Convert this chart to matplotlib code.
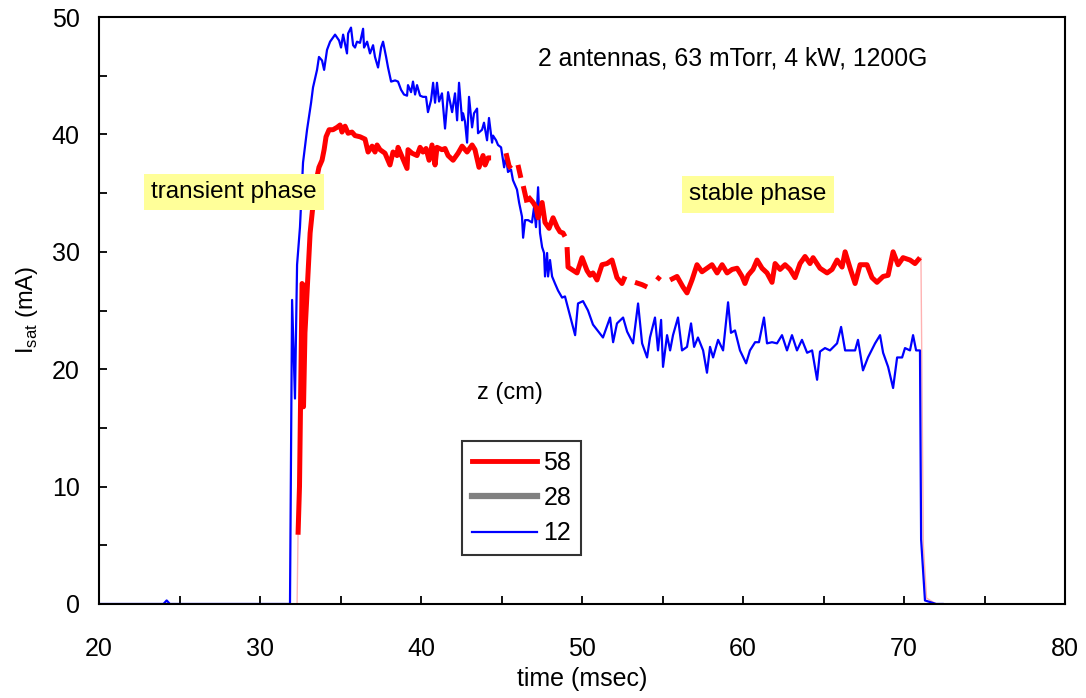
import numpy as np
import matplotlib
matplotlib.use('Agg')
import matplotlib.pyplot as plt
from matplotlib.lines import Line2D

plt.rcParams['font.family'] = ['Liberation Sans', 'DejaVu Sans']
plt.rcParams['mathtext.fontset'] = 'custom'
plt.rcParams['mathtext.rm'] = 'Liberation Sans'

nan = np.nan

# z = 12 cm probe (blue)
t_12 = [20.0, 24.0, 24.2, 24.4, 31.86, 31.99, 32.17, 32.30, 32.48, 32.67, 32.92, 33.17,
        33.29, 33.54, 33.66, 33.85, 33.98, 34.16, 34.35, 34.66, 34.91, 35.03, 35.16, 35.40,
        35.47, 35.65, 35.78, 35.90, 36.02, 36.21, 36.40, 36.46, 36.65, 36.83, 37.02, 37.14,
        37.33, 37.52, 37.64, 37.83, 37.95, 38.14, 38.39, 38.57, 38.76, 38.94, 39.13, 39.19,
        39.38, 39.50, 39.63, 39.75, 39.94, 40.12, 40.31, 40.43, 40.62, 40.75, 40.87, 40.99,
        41.12, 41.30, 41.49, 41.68, 41.93, 42.11, 42.24, 42.36, 42.55, 42.61, 42.73, 42.86,
        42.98, 43.17, 43.29, 43.48, 43.54, 43.79, 43.91, 44.10, 44.22, 44.41, 44.47, 44.66,
        44.78, 44.97, 45.09, 45.16, 45.28, 45.40, 45.59, 45.71, 45.96, 46.09, 46.27, 46.34,
        46.46, 46.65, 46.89, 47.02, 47.14, 47.20, 47.27, 47.39, 47.52, 47.64, 47.70, 47.83,
        47.89, 48.01, 48.14, 48.32, 48.51, 48.76, 48.94, 49.57, 49.75, 50.06, 50.37, 50.68,
        51.30, 51.74, 51.93, 52.17, 52.55, 52.80, 53.17, 53.48, 53.73, 54.04, 54.22, 54.53,
        54.72, 54.91, 55.03, 55.28, 55.47, 55.65, 55.96, 56.21, 56.52, 56.77, 56.96, 57.20,
        57.52, 57.76, 57.95, 58.14, 58.45, 58.76, 59.07, 59.25, 59.50, 59.81, 60.19, 60.43,
        60.75, 60.99, 61.30, 61.49, 61.80, 62.11, 62.42, 62.73, 63.04, 63.35, 63.66, 63.98,
        64.29, 64.60, 64.78, 65.09, 65.40, 65.84, 66.09, 66.34, 66.65, 66.96, 67.14, 67.45,
        67.76, 68.20, 68.51, 68.70, 69.01, 69.32, 69.57, 69.88, 70.06, 70.37, 70.56, 70.75,
        70.87, 70.99, 71.06, 71.30, 71.99, 72.4]
I_12 = [0.0, 0.0, 0.3, 0.0, 0.0, 25.9, 17.5, 28.9, 32.1, 37.6, 40.4, 42.7,
        44.0, 45.5, 46.6, 46.3, 45.5, 47.2, 47.9, 48.5, 48.0, 47.4, 48.5, 46.9,
        48.6, 49.1, 47.6, 47.4, 47.9, 47.8, 49.0, 47.4, 47.9, 46.9, 47.6, 46.6,
        45.7, 47.4, 47.9, 46.6, 45.7, 44.5, 44.6, 44.5, 43.8, 43.4, 43.3, 44.2,
        43.6, 44.5, 43.4, 44.2, 43.3, 43.2, 43.2, 41.9, 42.9, 44.4, 42.7, 44.4,
        42.8, 43.5, 40.5, 43.6, 41.9, 43.5, 41.2, 44.4, 41.2, 41.8, 41.1, 39.3,
        43.2, 40.6, 41.8, 42.2, 40.1, 40.4, 41.0, 39.5, 41.4, 39.3, 39.9, 39.5,
        39.1, 38.9, 37.8, 37.2, 38.1, 36.8, 37.0, 36.1, 35.3, 34.2, 33.0, 31.2,
        32.7, 32.7, 32.5, 33.8, 32.1, 33.6, 35.5, 31.6, 30.4, 29.9, 27.9, 29.9,
        27.9, 29.3, 27.9, 27.3, 26.7, 26.1, 26.2, 22.9, 25.6, 25.8, 25.0, 23.8,
        22.7, 24.4, 22.3, 23.9, 24.4, 23.2, 22.2, 25.6, 22.2, 21.0, 22.7, 24.4,
        21.6, 24.2, 20.2, 22.9, 21.6, 22.9, 24.4, 21.6, 21.9, 23.9, 21.9, 22.7,
        21.6, 19.7, 21.9, 21.0, 22.5, 21.6, 25.7, 23.1, 23.3, 21.6, 20.5, 21.6,
        22.3, 22.3, 24.4, 22.2, 22.3, 22.2, 22.9, 21.6, 22.9, 21.6, 22.5, 21.4,
        21.6, 19.1, 21.5, 21.8, 21.6, 22.2, 23.6, 21.6, 21.6, 21.6, 22.5, 19.9,
        21.0, 22.2, 22.9, 21.4, 20.2, 18.4, 21.0, 21.0, 21.8, 21.6, 22.9, 21.6,
        21.6, 21.6, 5.5, 0.3, 0.0, 0.0]

# z = 58 cm probe (red), gaps where the trace breaks up
t_58 = [32.36, 32.45, 32.61, 32.67, 32.70, 32.79, 33.11, 33.29, 33.54, 33.66, 33.85, 33.98,
        34.10, 34.29, 34.53, 34.78, 34.97, 35.09, 35.28, 35.47, 35.71, 35.90, 36.21, 36.52,
        36.71, 36.96, 37.14, 37.27, 37.45, 37.76, 38.07, 38.26, 38.51, 38.57, 38.82, 39.13,
        39.19, 39.44, 39.75, 39.94, 40.12, 40.31, 40.50, 40.68, 40.87, 40.99, 41.30, 41.49,
        41.68, 41.99, 42.30, 42.55, 42.86, 43.17, 43.35, 43.60, 43.85, 43.98, 44.16, 44.35,
        44.5, 45.28, 45.47, 45.59, 45.8, 46.02, 46.20, 46.28, 46.35, 46.58, 46.62, 46.65,
        46.96, 47.14, 47.27, 47.52, 47.70, 47.95, 48.20, 48.45, 48.63, 48.82, 48.94, 49.0,
        49.07, 49.13, 49.69, 50.00, 50.31, 50.50, 50.68, 50.93, 51.24, 51.55, 51.86, 52.17,
        52.48, 52.67, 52.9, 53.29, 53.73, 54.04, 54.3, 54.66, 54.84, 55.1, 55.47, 55.90,
        56.27, 56.52, 56.83, 57.14, 57.45, 57.76, 58.07, 58.39, 58.70, 59.01, 59.32, 59.63,
        59.94, 60.12, 60.31, 60.62, 60.87, 61.18, 61.49, 61.80, 61.99, 62.30, 62.61, 62.92,
        63.23, 63.54, 63.85, 64.16, 64.35, 64.78, 65.22, 65.53, 65.84, 66.15, 66.34, 66.65,
        66.96, 67.27, 67.70, 68.01, 68.32, 68.70, 69.01, 69.32, 69.63, 69.94, 70.37, 70.68,
        70.99]
I_58 = [5.9, 10.0, 27.3, 27.2, 16.8, 23.1, 31.6, 34.0, 36.4, 37.2, 37.8, 38.7,
        39.8, 40.4, 40.4, 40.6, 40.8, 40.2, 40.7, 40.1, 40.2, 39.9, 39.8, 39.6,
        38.5, 39.0, 38.5, 39.1, 38.7, 38.4, 37.4, 38.5, 38.2, 38.9, 38.1, 37.1,
        38.7, 38.4, 38.2, 38.9, 38.5, 38.8, 37.8, 39.1, 37.4, 38.9, 38.7, 38.8,
        38.2, 37.8, 38.4, 39.0, 38.5, 39.1, 38.7, 37.2, 38.2, 37.4, 38.0, 38.0,
        nan, 38.4, 37.3, 37.1, nan, 37.4, 36.3, nan, 35.6, 34.2, nan, 34.7,
        34.2, 33.8, 32.9, 34.2, 32.5, 32.0, 32.9, 32.1, 31.7, 31.6, 31.3, nan,
        30.4, 28.7, 28.2, 29.5, 28.4, 28.0, 28.2, 27.6, 28.9, 29.0, 29.3, 27.8,
        27.3, 27.9, nan, 27.4, 27.2, 27.0, nan, 27.6, 27.9, nan, 27.6, 27.9,
        27.0, 26.5, 27.6, 28.9, 28.3, 28.6, 28.9, 28.2, 28.9, 28.2, 28.5, 28.6,
        27.9, 27.3, 28.0, 28.5, 29.3, 28.6, 28.2, 27.4, 29.0, 28.5, 28.9, 28.5,
        27.8, 29.0, 29.6, 29.0, 29.5, 28.6, 28.2, 28.5, 29.3, 28.7, 30.0, 28.6,
        27.3, 28.9, 28.9, 27.8, 27.4, 27.9, 28.0, 30.0, 28.9, 29.5, 29.3, 29.0,
        29.5]

# faint edges of the red trace (switch-on / switch-off)
t_58_edge = [32.30, 32.36, nan, 71.05, 71.20, 71.40, 72.0]
I_58_edge = [0.0, 5.9, nan, 29.5, 5.0, 0.5, 0.0]

# z = 28 cm probe (gray) is hidden under the other traces
t_28 = []
I_28 = []

fig, ax = plt.subplots(figsize=(10.86, 6.98), dpi=100)
fig.subplots_adjust(left=0.0912, right=0.9807, bottom=0.1347, top=0.9756)

ax.plot(t_58_edge, I_58_edge, color='#ff8080', lw=1.0, alpha=0.6)
ax.plot(t_28, I_28, color='#808080', lw=4)
ax.plot(t_12, I_12, color='#0000ff', lw=1.6, solid_joinstyle='round')
ax.plot(t_58, I_58, color='#ff0000', lw=3.6, solid_joinstyle='round', solid_capstyle='butt')

ax.set_xlim(20, 80)
ax.set_ylim(0, 50)
ax.set_xticks(np.arange(20, 81, 10))
ax.set_xticks(np.arange(25, 80, 10), minor=True)
ax.set_yticks(np.arange(0, 51, 10))
ax.set_yticks(np.arange(5, 50, 10), minor=True)
ax.tick_params(which='both', direction='in', length=5.5, width=1.3, labelsize=18)
ax.tick_params(axis='y', pad=14)
ax.tick_params(axis='x', pad=24)
for s in ax.spines.values():
    s.set_linewidth(1.5)

ax.set_xlabel('time (msec)', fontsize=18, labelpad=4)
ax.set_ylabel(r'I$_{\mathrm{sat}}$ (mA)', fontsize=17, labelpad=8)

box = dict(boxstyle='square,pad=0.3', facecolor='#ffff99', edgecolor='none')
ax.text(28.4, 35.1, 'transient phase', fontsize=17.5, ha='center', va='center', bbox=box)
ax.text(60.9, 34.9, 'stable phase', fontsize=17.5, ha='center', va='center', bbox=box)
ax.text(47.25, 46.5, '2 antennas, 63 mTorr, 4 kW, 1200G', fontsize=17.8, ha='left', va='center')
ax.text(45.5, 18.0, 'z (cm)', fontsize=17, ha='center', va='center')

handles = [Line2D([], [], color='#ff0000', lw=3.5),
           Line2D([], [], color='#808080', lw=4.5),
           Line2D([], [], color='#0000ff', lw=1.6)]
leg = ax.legend(handles, ['58', '28', '12'], loc='lower left', bbox_to_anchor=(0.376, 0.083),
                fontsize=18, frameon=True, fancybox=False, handlelength=2.6,
                handletextpad=0.25, labelspacing=0.45, borderpad=0.4, borderaxespad=0)
leg.get_frame().set_edgecolor('black')
leg.get_frame().set_linewidth(1.5)

fig.savefig('out.png', dpi=100)
